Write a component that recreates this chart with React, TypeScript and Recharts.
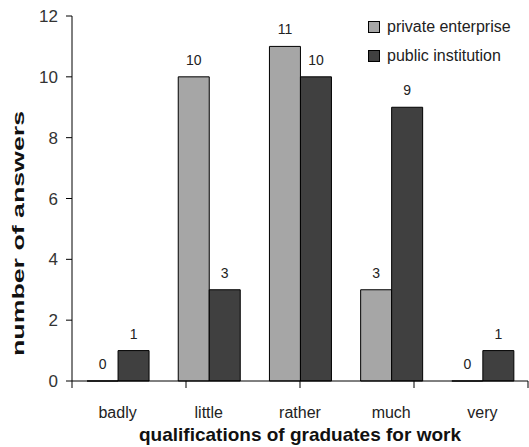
import React from 'react';
import { BarChart, Bar, XAxis, YAxis, LabelList } from 'recharts';

const categories = ['badly', 'little', 'rather', 'much', 'very'];
const privateEnterprise = [0, 10, 11, 3, 0];
const publicInstitution = [1, 3, 10, 9, 1];
const yTicks = [0, 2, 4, 6, 8, 10, 12];
const boundaryTicks = [0, 1, 2, 3, 4, 5];

const FONT = '"Liberation Sans", Arial, sans-serif';
const LIGHT = '#a6a6a6';
const DARK = '#404040';

const data = categories.map((c, i) => ({
  name: c,
  private: privateEnterprise[i],
  public: publicInstitution[i],
}));

// rotated title, stretched to the length it has in the original
const YTitle = ({ viewBox }: any) => {
  const cx = viewBox.x - 14;
  const cy = viewBox.y + viewBox.height / 2 + 35;
  return (
    <text
      x={cx}
      y={cy}
      transform={`rotate(-90, ${cx}, ${cy})`}
      textAnchor="middle"
      dominantBaseline="central"
      fontFamily={FONT}
      fontSize={16}
      fontWeight="bold"
      fill="#111"
      textLength={245}
      lengthAdjust="spacingAndGlyphs"
    >
      number of answers
    </text>
  );
};

const LegendBox = () => (
  <div style={{ position: 'absolute', left: 368, top: 13, fontFamily: FONT, fontSize: 16, color: '#222' }}>
    {[
      { label: 'private enterprise', color: LIGHT },
      { label: 'public institution', color: DARK },
    ].map((item, i) => (
      <div key={i} style={{ display: 'flex', alignItems: 'center', height: 28.5 }}>
        <span
          style={{
            display: 'inline-block',
            width: 10,
            height: 10,
            background: item.color,
            border: '1px solid #000',
            marginRight: 7,
          }}
        />
        {item.label}
      </div>
    ))}
  </div>
);

export default function App() {
  return (
    <div style={{ position: 'absolute', left: 0, top: 0, width: 529, height: 447, background: '#fff' }}>
      <BarChart
        width={529}
        height={447}
        data={data}
        margin={{ top: 16, right: 1, left: 32, bottom: 0 }}
        barCategoryGap="16.5%"
        barGap={0}
      >
        {/* numeric axis only for the line and the ticks between categories */}
        <XAxis
          xAxisId="a-edge"
          type="number"
          domain={[0, 5]}
          ticks={boundaryTicks}
          interval={0}
          tick={() => <g />}
          tickLine={{ stroke: '#000' }}
          tickSize={7}
          stroke="#000"
          height={1}
        />
        <XAxis
          dataKey="name"
          xAxisId="b-cat"
          axisLine={false}
          tickLine={false}
          tickMargin={19}
          height={65}
          tick={{ fontFamily: FONT, fontSize: 16, fill: '#222' }}
          label={{
            value: 'qualifications of graduates for work',
            position: 'insideBottom',
            offset: 6,
            style: { fontFamily: FONT, fontSize: 19, fontWeight: 'bold', fill: '#111' },
          }}
        />
        <YAxis
          width={40}
          domain={[0, 12]}
          ticks={yTicks}
          interval={0}
          tickSize={6}
          tickMargin={8}
          stroke="#000"
          tick={{ fontFamily: FONT, fontSize: 17, fill: '#333' }}
          label={<YTitle />}
        />
        <Bar dataKey="private" xAxisId="b-cat" fill={LIGHT} stroke="#000" strokeWidth={1} minPointSize={0.01} isAnimationActive={false}>
          <LabelList dataKey="private" position="top" offset={12} style={{ fontFamily: FONT, fontSize: 14, fill: '#222' }} />
        </Bar>
        <Bar dataKey="public" xAxisId="b-cat" fill={DARK} stroke="#000" strokeWidth={1} isAnimationActive={false}>
          <LabelList dataKey="public" position="top" offset={12} style={{ fontFamily: FONT, fontSize: 14, fill: '#222' }} />
        </Bar>
      </BarChart>
      <LegendBox />
    </div>
  );
}
